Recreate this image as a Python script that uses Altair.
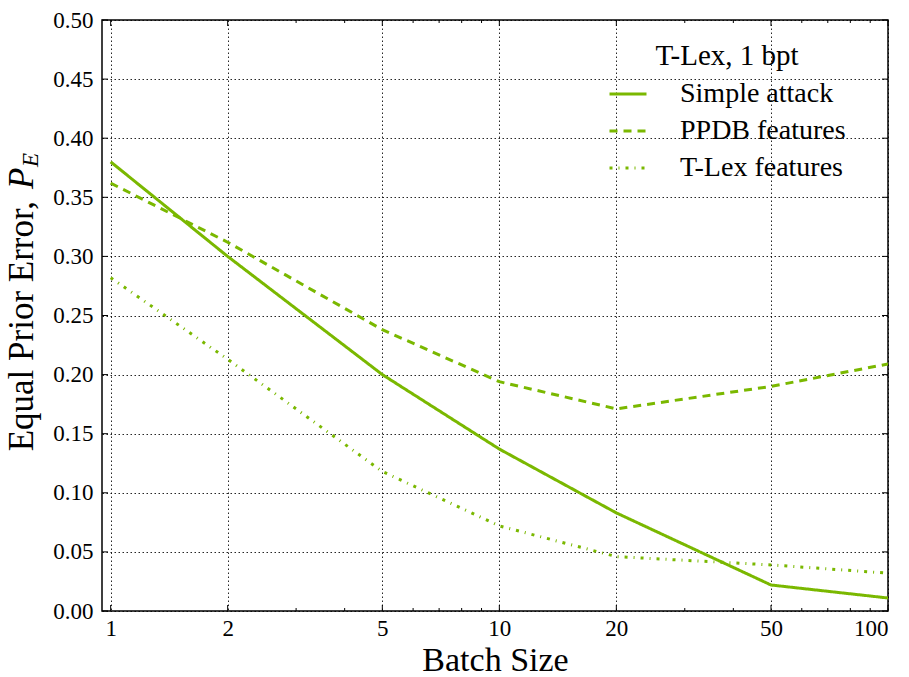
import altair as alt
import pandas as pd

# ---- data ----
batch = [1, 2, 5, 10, 20, 50, 100]
simple_attack = [0.380, 0.300, 0.200, 0.137, 0.083, 0.022, 0.011]
ppdb_features = [0.362, 0.312, 0.238, 0.194, 0.171, 0.190, 0.209]
tlex_features = [0.282, 0.213, 0.118, 0.072, 0.046, 0.039, 0.032]
series_names = ["Simple attack", "PPDB features", "T-Lex features"]
x_ticks = [1, 2, 5, 10, 20, 50, 100]
x_minor = [3, 4, 6, 7, 8, 9, 30, 40, 60, 70, 80, 90]
y_ticks = [0.0, 0.05, 0.10, 0.15, 0.20, 0.25, 0.30, 0.35, 0.40, 0.45, 0.50]

GREEN = "#7ab800"
FONT = "Liberation Serif"
W, H = 786, 591

rows = []
for name, vals in zip(series_names, [simple_attack, ppdb_features, tlex_features]):
    for b, v in zip(batch, vals):
        rows.append({"series": name, "batch": b, "pe": v})
df = pd.DataFrame(rows)

xs = alt.Scale(type="log", domain=[0.95, 100], nice=False)
ys = alt.Scale(domain=[0, 0.5], nice=False)

x_axis = alt.Axis(values=x_ticks, format="d", title="Batch Size",
                  titleFont=FONT, titleFontSize=34, titleFontWeight="normal",
                  titleColor="black", titlePadding=3, labelPadding=6)
y_axis = alt.Axis(values=y_ticks, format=".2f", title=None, labelPadding=9)

lines = alt.Chart(df).mark_line(strokeWidth=3, color=GREEN, clip=True).encode(
    x=alt.X("batch:Q", scale=xs, axis=x_axis),
    y=alt.Y("pe:Q", scale=ys, axis=y_axis),
    strokeDash=alt.StrokeDash(
        "series:N",
        scale=alt.Scale(domain=series_names, range=[[1, 0], [8, 6], [3, 6, 1, 6]]),
        sort=series_names,
        legend=alt.Legend(
            title="T-Lex, 1 bpt", orient="none", legendX=506, legendY=22,
            titleFont=FONT, titleFontSize=29, titleFontWeight="normal", titleColor="black",
            titleAnchor="middle", titleAlign="center", titlePadding=3,
            labelFont=FONT, labelFontSize=28, labelColor="black", labelOffset=32,
            labelLimit=400,
            symbolType="stroke", symbolSize=1369, symbolStrokeWidth=3,
            symbolStrokeColor=GREEN, rowPadding=3, padding=0,
        ),
    ),
)

xt_df = pd.DataFrame({"v": x_ticks})
xm_df = pd.DataFrame({"v": x_minor})
yt_df = pd.DataFrame({"v": y_ticks})

def xrule(data, y1, y2):
    return alt.Chart(data).mark_rule(color="black", strokeWidth=1).encode(
        x=alt.X("v:Q", scale=xs, axis=x_axis), y=alt.value(y1), y2=alt.value(y2))

def yrule(data, x1, x2):
    return alt.Chart(data).mark_rule(color="black", strokeWidth=1).encode(
        y=alt.Y("v:Q", scale=ys, axis=y_axis), x=alt.value(x1), x2=alt.value(x2))

ticks = [
    xrule(xt_df, H - 6, H), xrule(xt_df, 0, 6),
    xrule(xm_df, H - 3, H), xrule(xm_df, 0, 3),
    yrule(yt_df, 0, 6), yrule(yt_df, W - 6, W),
]

ytitle_main = alt.Chart(pd.DataFrame({"t": ["Equal Prior Error,"]})).mark_text(
    angle=270, align="right", baseline="alphabetic", font=FONT, fontSize=35, color="black"
).encode(text="t:N", x=alt.value(-69), y=alt.value(181))

ytitle_p = alt.Chart(pd.DataFrame({"t": ["P"]})).mark_text(
    angle=270, align="left", baseline="alphabetic", font=FONT, fontSize=35,
    fontStyle="italic", color="black"
).encode(text="t:N", x=alt.value(-69), y=alt.value(169))

ytitle_e = alt.Chart(pd.DataFrame({"t": ["E"]})).mark_text(
    angle=270, align="left", baseline="alphabetic", font=FONT, fontSize=23,
    fontStyle="italic", color="black"
).encode(text="t:N", x=alt.value(-64), y=alt.value(147))

chart = alt.layer(lines, *ticks, ytitle_main, ytitle_p, ytitle_e).properties(
    width=W, height=H,
    autosize=alt.AutoSizeParams(type="none"),
    padding={"left": 102, "top": 20, "right": 21, "bottom": 66},
).configure_view(
    stroke="black", strokeWidth=1.5
).configure_axis(
    grid=True, gridColor="black", gridDash=[1.5, 2.5], gridOpacity=0.85, gridWidth=1,
    domain=False, ticks=False,
    labelFont=FONT, labelFontSize=23, labelColor="black",
)

chart.save("out.html", embed_options={"renderer": "svg", "actions": False})
